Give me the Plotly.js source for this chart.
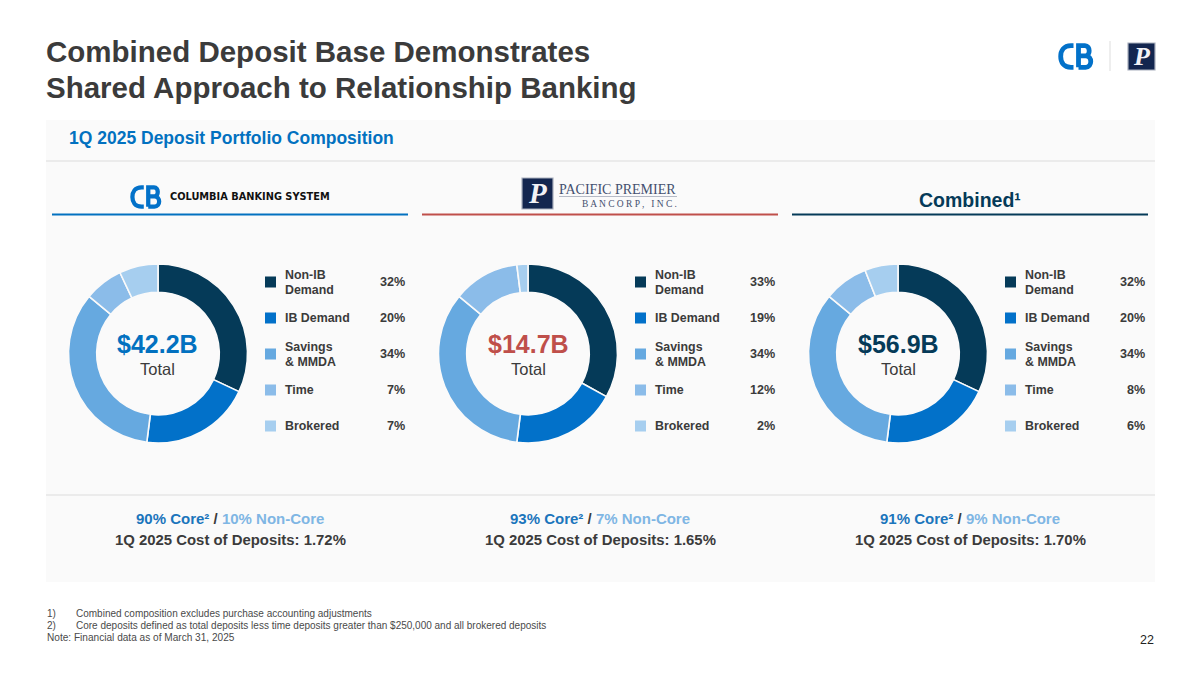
<!DOCTYPE html>
<html><head><meta charset="utf-8">
<script src="https://cdn.plot.ly/plotly-3.0.1.min.js"></script>
<style>html,body{margin:0;padding:0;background:#fff}#c{width:1200px;height:675px}</style></head>
<body><div id="c"></div>
<script>
const categories=["Non-IB\nDemand","IB Demand","Savings\n& MMDA","Time","Brokered"];
const sliceColors=["#053A58","#0271C9","#66A9E0","#8BBCE9","#A6CEEF"];
const columbiaValues=[32,20,34,7,7];
const pacificValues=[33,19,34,12,2];
const combinedValues=[32,20,34,8,6];
const totals=["$42.2B","$14.7B","$56.9B"];
const totalColors=["#0271C0","#BF4F4A","#053A58"];
const coreShares=[90,93,91];
const nonCoreShares=[10,7,9];
const costs=["1.72%","1.65%","1.70%"];
const titleLines=["Combined Deposit Base Demonstrates","Shared Approach to Relationship Banking"];
const footnotes=[["1)","Combined composition excludes purchase accounting adjustments"],["2)","Core deposits defined as total deposits less time deposits greater than $250,000 and all brokered deposits"]];

const W=1200,H=675,FF="Liberation Sans, Arial, sans-serif",SER="Liberation Serif, serif";
const X=x=>x/W,Y=y=>1-y/H;
const allValues=[columbiaValues,pacificValues,combinedValues];
const centers=[158,528,898],R=89.5,CY=353.5;
const data=allValues.map((v,i)=>({type:"pie",values:v,labels:categories.map(c=>c.replace("\n"," ")),sort:false,direction:"clockwise",rotation:0,hole:0.685,
  textinfo:"none",hoverinfo:"label+percent",marker:{colors:sliceColors,line:{color:"#FAFAFA",width:1.6}},
  domain:{x:[X(centers[i]-R),X(centers[i]+R)],y:[Y(CY+R),Y(CY-R)]},showlegend:false}));

const ann=[],shp=[];
function T(x,y,text,size,color,opt={}){ann.push({xref:"paper",yref:"paper",x:X(x),y:Y(y),text,showarrow:false,xanchor:opt.a||"left",yanchor:"middle",align:opt.a||"left",
  font:{family:opt.f||FF,size,color},borderpad:0,borderwidth:0});}
function rect(x0,y0,x1,y1,fill,line){shp.push({type:"rect",xref:"paper",yref:"paper",x0:X(x0),x1:X(x1),y0:Y(y0),y1:Y(y1),fillcolor:fill,line:line?{color:line,width:1.2}:{width:0},layer:"below"});}
function hline(x0,x1,y,c,w){shp.push({type:"line",xref:"paper",yref:"paper",x0:X(x0),x1:X(x1),y0:Y(y),y1:Y(y),line:{color:c,width:w},layer:"below"});}
function vline(x,y0,y1,c,w){shp.push({type:"line",xref:"paper",yref:"paper",x0:X(x),x1:X(x),y0:Y(y0),y1:Y(y1),line:{color:c,width:w},layer:"below"});}
// logo outlines in their own small unit box, mapped onto the page
function cbLogo(x,y,s){
  const seg=[[["M",15.5,2.7],["L",13,2.7],["C",5.5,2.7,2.7,8,2.7,13.5],["C",2.7,19,5.5,24.3,13,24.3],["L",15.5,24.3]],
   [["M",20.5,24.3],["L",20.5,2.7],["L",27,2.7],["C",32.5,2.7,32.5,12.8,27.5,12.8],["L",20.5,12.8],["M",27.5,12.8],["C",34.5,12.8,34.5,24.3,27.5,24.3],["L",20.5,24.3]]];
  seg.forEach(p=>{const d=p.map(c=>{let o=c[0];for(let k=1;k<c.length;k+=2){o+=" "+X(x+c[k]*s)+","+Y(y+c[k+1]*s);}return o;}).join(" ");
    shp.push({type:"path",xref:"paper",yref:"paper",path:d,line:{color:"#0271C9",width:4.8*s},fillcolor:"rgba(0,0,0,0)"});});
}
function ppLogo(x,y,s,fs){rect(x,y,x+s,y+s,"#13264F","#A9AFBD");T(x+s/2,y+s/2,"<b><i>P</i></b>",fs,"#F2F2F6",{a:"center",f:SER});}

rect(46,120,1155,582,"#FAFAFA");
hline(46,1155,161,"#E6E6E6",1.3);hline(46,1155,495,"#E6E6E6",1.3);
T(46,52,"<b>"+titleLines[0]+"</b>",29.5,"#3B3B3B");
T(46,88,"<b>"+titleLines[1]+"</b>",29.5,"#3B3B3B");
T(69,138,"<b>1Q 2025 Deposit Portfolio Composition</b>",17.5,"#0271C0");
cbLogo(1058,43,1);vline(1110,41,71,"#DDDDDD",1);ppLogo(1128,43,27,26);
cbLogo(130,185,0.89);T(170,197,"<b>COLUMBIA BANKING SYSTEM</b>",9.8,"#111111",{f:"DejaVu Sans, sans-serif"});
ppLogo(522,178,31,29);
T(559,189,"PACIFIC PREMIER",14,"#44506F",{f:SER});hline(559,677,196.5,"#B5BAC6",1);
T(677,204,"B A N C O R P ,  &#8201;I N C .",9.5,"#44506F",{a:"right",f:SER});
T(970,200,"<b>Combined¹</b>",19.5,"#053A58",{a:"center"});
hline(52,408,214.5,"#0271C0",2);hline(422,778,214.5,"#BF4F4A",2);hline(792,1148,214.5,"#053A58",2);

const rowY=[282,318,354,390,426];
allValues.forEach((v,i)=>{
  const dx=370*i,cx=centers[i];
  T(cx,344,"<b>"+totals[i]+"</b>",25,totalColors[i],{a:"center"});
  T(cx,369,"Total",16.5,"#3B3B3B",{a:"center"});
  categories.forEach((c,j)=>{
    rect(265+dx,rowY[j]-5.5,276+dx,rowY[j]+5.5,sliceColors[j]);
    const ls=c.split("\n");
    if(ls.length==2){T(285+dx,rowY[j]-7.5,"<b>"+ls[0]+"</b>",12.4,"#3B3B3B");T(285+dx,rowY[j]+7.5,"<b>"+ls[1]+"</b>",12.4,"#3B3B3B");}
    else T(285+dx,rowY[j],"<b>"+ls[0]+"</b>",12.4,"#3B3B3B");
    T(405+dx,rowY[j],"<b>"+v[j]+"%</b>",12.6,"#3B3B3B",{a:"right"});
  });
  const mid=230+dx;
  T(mid,518,`<b><span style="color:#1B75BC">${coreShares[i]}% Core²</span> / <span style="color:#7FB6E4">${nonCoreShares[i]}% Non-Core</span></b>`,15,"#3B3B3B",{a:"center"});
  T(mid,539.5,`<b>1Q 2025 Cost of Deposits: ${costs[i]}</b>`,14.9,"#3B3B3B",{a:"center"});
});
footnotes.forEach((f,i)=>{T(47,613+12*i,f[0],10,"#4A4A4A");T(76,613+12*i,f[1],10,"#4A4A4A");});
T(47,637.5,"Note: Financial data as of March 31, 2025",10.1,"#4A4A4A");
T(1154,640,"22",12.5,"#222222",{a:"right"});

Plotly.newPlot("c",data,{width:W,height:H,margin:{l:0,r:0,t:0,b:0},paper_bgcolor:"#FFFFFF",plot_bgcolor:"#FFFFFF",shapes:shp,annotations:ann,font:{family:FF}},{displayModeBar:false,staticPlot:true});
</script></body></html>
